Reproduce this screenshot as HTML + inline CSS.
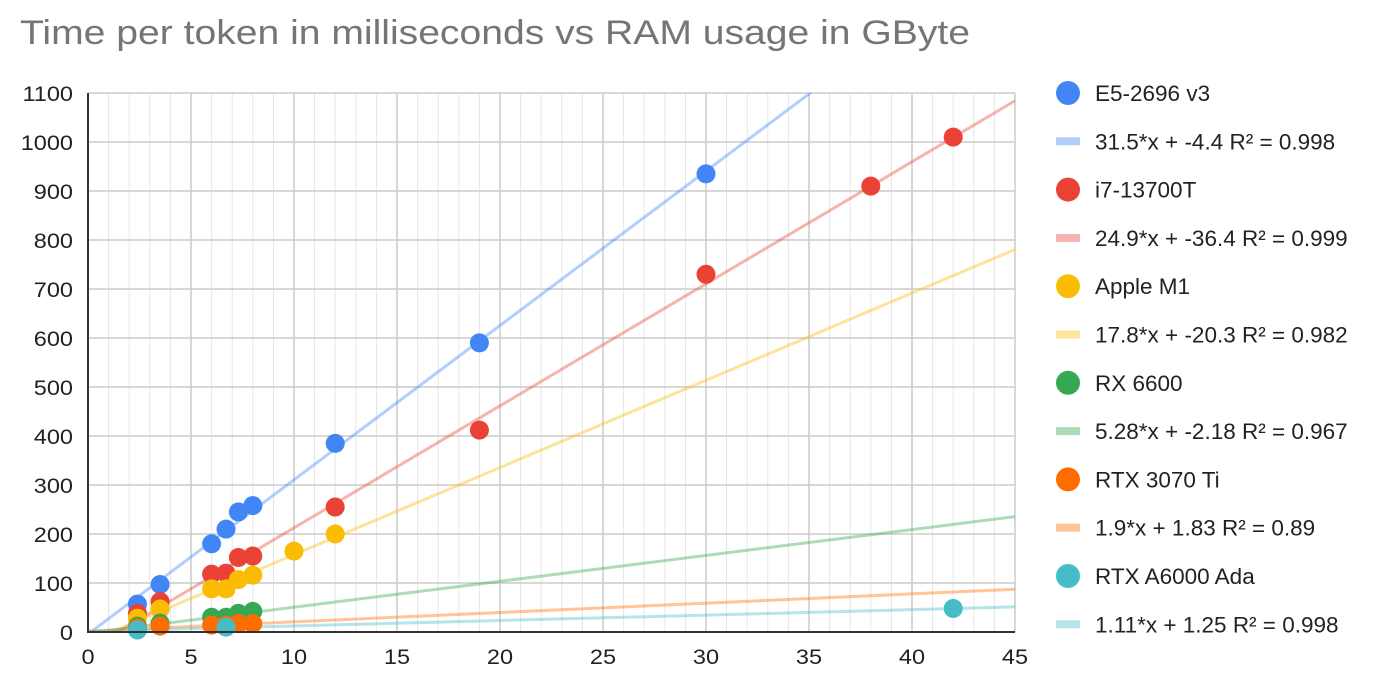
<!DOCTYPE html>
<html><head><meta charset="utf-8"><style>
body{margin:0;background:#fff;font-family:"Liberation Sans",Arial,sans-serif}
svg text{font-family:"Liberation Sans",Arial,sans-serif}
</style></head><body>
<svg id="chart" width="1398" height="691">
<text transform="translate(20,44) scale(1.15,1)" x="0" y="0" font-size="34" fill="#757575">Time per token in milliseconds vs RAM usage in GByte</text>
<g id="grid"></g><g id="trends"></g><g id="points"></g><g id="axes"></g><g id="legend"></g>
</svg>
<script>
const xTicks=[0,5,10,15,20,25,30,35,40,45];
const yTicks=[0,100,200,300,400,500,600,700,800,900,1000,1100];
const seriesNames=["E5-2696 v3","i7-13700T","Apple M1","RX 6600","RTX 3070 Ti","RTX A6000 Ada"];
const trendLabels=["31.5*x + -4.4 R² = 0.998","24.9*x + -36.4 R² = 0.999","17.8*x + -20.3 R² = 0.982","5.28*x + -2.18 R² = 0.967","1.9*x + 1.83 R² = 0.89","1.11*x + 1.25 R² = 0.998"];
const slopes=[31.5,24.9,17.8,5.28,1.9,1.11];
const intercepts=[-4.4,-36.4,-20.3,-2.18,1.83,1.25];
const colors=["#4285f4","#ea4335","#fbbc04","#34a853","#ff6d01","#46bdc6"];
const e5X=[2.4,3.5,6,6.7,7.3,8,12,19,30];
const e5Y=[57,97,180,210,245,258,385,590,935];
const i7X=[2.4,3.5,6,6.7,7.3,8,12,19,30,38,42];
const i7Y=[38,62,118,120,152,155,255,412,730,910,1010];
const m1X=[2.4,3.5,6,6.7,7.3,8,10,12];
const m1Y=[28,47,88,88,107,116,165,200];
const rxX=[2.4,3.5,6,6.7,7.3,8];
const rxY=[12,18,30,30,38,42];
const rtxX=[2.4,3.5,6,6.7,7.3,8];
const rtxY=[8,12,14,14,17,17];
const a6X=[2.4,6.7,42];
const a6Y=[4,10,48];
const seriesX=[e5X,i7X,m1X,rxX,rtxX,a6X];
const seriesY=[e5Y,i7Y,m1Y,rxY,rtxY,a6Y];

const L=88,R=1015,T=93,B=632,xMax=45,yMax=1100;
const sx=v=>L+(R-L)*v/xMax, sy=v=>B-(B-T)*v/yMax;
const NS="http://www.w3.org/2000/svg";
function mk(tag,attrs,parent){const e=document.createElementNS(NS,tag);for(const k in attrs)e.setAttribute(k,attrs[k]);parent.appendChild(e);return e;}
const grid=document.getElementById('grid'),axes=document.getElementById('axes');
for(let i=0;i<=xMax;i++){
  if(i%5===0)continue;
  const l=mk('line',{x1:sx(i),x2:sx(i),y1:T,y2:B,stroke:'#e6e6e6','stroke-width':1},grid);
  
  
}
xTicks.forEach(v=>{
  if(v>0){const l=mk('line',{x1:sx(v),x2:sx(v),y1:T,y2:B,stroke:'#cccccc','stroke-width':1.5},grid);
  
  }
  const t=mk('text',{transform:'translate('+sx(v)+','+(B+32)+') scale(1.12,1)',x:0,y:0,'font-size':21,'text-anchor':'middle',fill:'#222'},axes);t.textContent=v;
  
  
});
yTicks.forEach(v=>{
  if(v>0){const l=mk('line',{x1:L,x2:R,y1:sy(v),y2:sy(v),stroke:'#cccccc','stroke-width':1.5},grid);
  
  }
  const t=mk('text',{transform:'translate('+(L-15)+','+(sy(v)+8)+') scale(1.12,1)',x:0,y:0,'font-size':21,'text-anchor':'end',fill:'#222'},axes);t.textContent=v;
  
  
});
const ya=mk('line',{x1:L,x2:L,y1:T,y2:B+1,stroke:'#333','stroke-width':2},axes);


const xa=mk('line',{x1:L,x2:R,y1:B,y2:B,stroke:'#333','stroke-width':2},axes);



const trends=document.getElementById('trends'),pts=document.getElementById('points'),leg=document.getElementById('legend');
mk('clipPath',{id:'pc'},document.getElementById('chart'));
mk('rect',{x:L,y:T,width:R-L,height:B-T},document.getElementById('pc'));
trends.setAttribute('clip-path','url(#pc)');
slopes.forEach((m,i)=>{
  const b=intercepts[i];
  const l=mk('line',{x1:sx(0),y1:sy(b),x2:sx(xMax),y2:sy(m*xMax+b),stroke:colors[i],'stroke-width':3,'stroke-opacity':0.4},trends);
  
  
});
seriesX.forEach((xs,i)=>{
  xs.forEach((x,j)=>{
    const c=mk('circle',{cx:sx(x),cy:sy(seriesY[i][j]),r:9.5,fill:colors[i]},pts);
    
    
  });
});
seriesNames.forEach((n,i)=>{
  const y0=93+i*96.6;
  const c=mk('circle',{cx:1068,cy:y0,r:12,fill:colors[i]},leg);
  
  
  const t=mk('text',{x:1095,y:y0+8,'font-size':22.5,fill:'#222'},leg);t.textContent=n;
  
  
  const y1=y0+48.3;
  const r=mk('rect',{x:1056,y:y1-4,width:24,height:8,fill:colors[i],'fill-opacity':0.4},leg);
  
  
  const t2=mk('text',{x:1095,y:y1+8,'font-size':22.5,fill:'#222'},leg);t2.textContent=trendLabels[i];
  
  
});
</script>
</body></html>
